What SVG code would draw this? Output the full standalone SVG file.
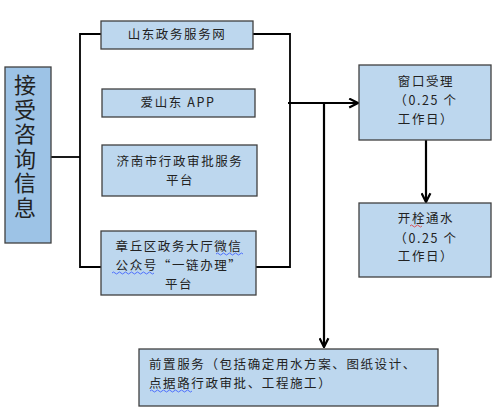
<svg xmlns="http://www.w3.org/2000/svg" width="500" height="419" viewBox="0 0 500 419">
<defs>
<style>
.box{fill:#BDD7EE;stroke:#404040;stroke-width:1.3}
.lbox{fill:#9DC3E6;stroke:#404040;stroke-width:1.3}
.t{font-family:"Noto Sans CJK SC","Noto Sans",sans-serif;font-size:12.5px;fill:#222;letter-spacing:1.6px}
.c{text-anchor:middle}
.big{font-family:"Noto Sans CJK SC",sans-serif;font-size:22px;fill:#222;writing-mode:vertical-rl;letter-spacing:2.5px}
.ln{fill:none;stroke:#000;stroke-width:1.8}
.ar{fill:none;stroke:#000;stroke-width:2.2}
.wv{fill:none;stroke:#3355ff;stroke-width:0.8}
.wr{fill:none;stroke:#e03030;stroke-width:0.8}
</style>
<marker id="arr" viewBox="0 0 10 10" refX="9" refY="5" markerWidth="5" markerHeight="5" orient="auto" markerUnits="strokeWidth">
<path d="M1,1 L9,5 L1,9" fill="none" stroke="#000" stroke-width="2"/>
</marker>
</defs>
<rect width="500" height="419" fill="#fff"/>
<g id="connectors">
<path class="ln" d="M51,157 H80"/>
<path class="ln" d="M101,34 H80 V267 H101"/>
<path class="ln" d="M253,34 H290 V267 H256"/>
<path class="ar" d="M288,103 H358" marker-end="url(#arr)"/>
<path class="ar" d="M324,103 V347" marker-end="url(#arr)"/>
<path class="ar" d="M426,140 V202" marker-end="url(#arr)"/>
</g>
<g id="n-consult">
<rect class="lbox" x="5" y="67" width="46" height="176"/>
<text class="big" x="25" y="74">接受咨询信息</text>
</g>
<g id="n-web">
<rect class="box" x="101" y="21" width="152" height="28"/>
<text class="t c" x="177" y="39">山东政务服务网</text>
</g>
<g id="n-app">
<rect class="box" x="102" y="89" width="153" height="28"/>
<text class="t c" x="178" y="107">爱山东 APP</text>
</g>
<g id="n-jinan">
<rect class="box" x="102" y="145" width="155" height="51"/>
<text class="t c" x="180" y="166">济南市行政审批服务</text>
<text class="t c" x="180" y="185">平台</text>
</g>
<g id="n-zhangqiu">
<rect class="box" x="101" y="231" width="155" height="64"/>
<text class="t c" x="179" y="251">章丘区政务大厅微信</text>
<text class="t c" x="179" y="270">公众号“一链办理”</text>
<text class="t c" x="179" y="289">平台</text>
<path class="wv" d="M216,254 q1.5,-2 3,0 t3,0 t3,0 t3,0 t3,0 t3,0 t3,0 t3,0 t3,0"/>
<path class="wv" d="M112,273 q1.5,-2 3,0 t3,0 t3,0 t3,0 t3,0 t3,0 t3,0 t3,0 t3,0 t3,0 t3,0 t3,0 t3,0 t3,0"/>
</g>
<g id="n-window">
<rect class="box" x="359" y="65" width="132" height="75"/>
<text class="t c" x="426" y="86">窗口受理</text>
<text class="t c" x="426" y="105">（0.25 个</text>
<text class="t c" x="426" y="124">工作日）</text>
</g>
<g id="n-water">
<rect class="box" x="359" y="203" width="132" height="74"/>
<text class="t c" x="426" y="223">开栓通水</text>
<text class="t c" x="426" y="243">（0.25 个</text>
<text class="t c" x="426" y="261">工作日）</text>
<path class="wr" d="M410,226 q1.5,-2 3,0 t3,0 t3,0 t3,0"/>
</g>
<g id="n-pre">
<rect class="box" x="139" y="349" width="299" height="57"/>
<text class="t" x="149" y="369">前置服务（包括确定用水方案、图纸设计、</text>
<text class="t" x="149" y="388">点据路行政审批、工程施工）</text>
<path class="wv" d="M150,391 q1.5,-2 3,0 t3,0 t3,0 t3,0 t3,0 t3,0 t3,0 t3,0 t3,0 t3,0 t3,0 t3,0 t3,0 t3,0"/>
</g>
</svg>
